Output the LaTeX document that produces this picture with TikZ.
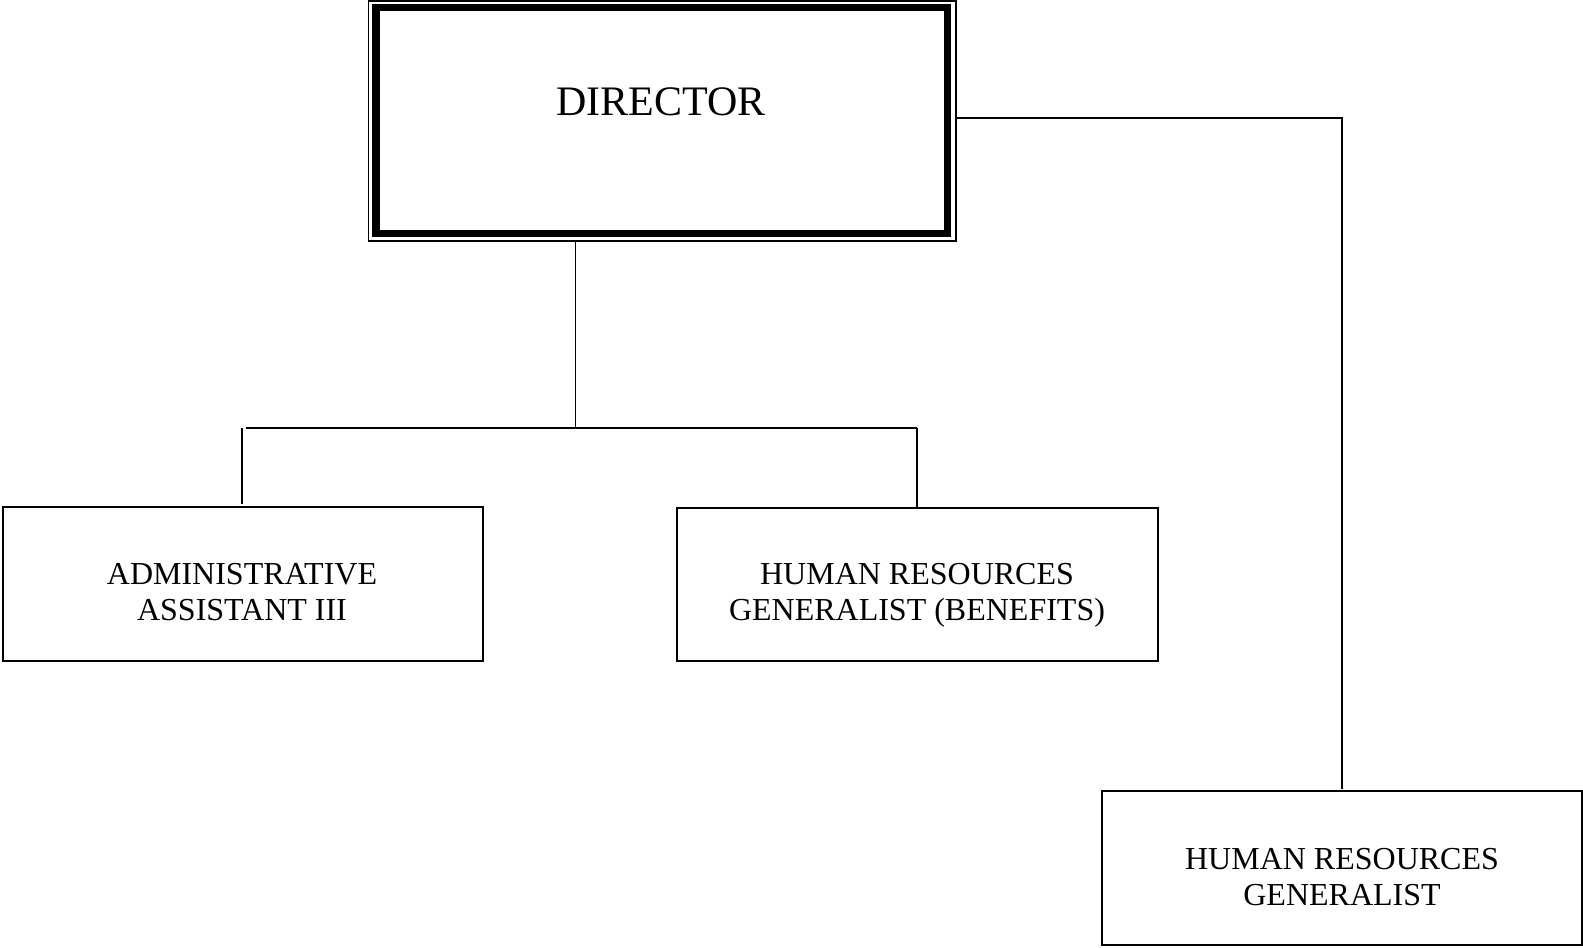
\documentclass[tikz,border=0pt]{standalone}
\usepackage{fontspec}
\setmainfont{Liberation Serif}
\begin{document}
\begin{tikzpicture}[x=0.5pt,y=-0.5pt,
  thinline/.style={line width=0.85pt},
  posbox/.style={draw,thinline,inner sep=0pt,outer sep=0pt,anchor=north west},
  postext/.style={align=center,font=\fontsize{16}{18.2}\selectfont,inner sep=0pt},
  link/.style={thinline}]
\useasboundingbox (0,0) rectangle (1583,947);

% Director: thin outer frame with a heavy frame just inside it
\node[posbox,line width=0.9pt,minimum width=293.75pt,minimum height=120pt] (dir) at (368.5,1) {};
\draw[line width=3.8pt] (376,7.5) rectangle (947.5,233.5);
\node[font=\fontsize{21}{24}\selectfont,inner sep=0pt] (dirtext) at (661,102) {DIRECTOR};

% Position boxes
\node[posbox,minimum width=240pt,minimum height=77pt] (admin) at (3,507) {};
\node[postext] (admintext) at (242,595) {\strut ADMINISTRATIVE\\\strut ASSISTANT III};

\node[posbox,minimum width=240.5pt,minimum height=76.5pt] (ben) at (677,508) {};
\node[postext] (bentext) at (917,595) {\strut HUMAN RESOURCES\\\strut GENERALIST (BENEFITS)};

\node[posbox,minimum width=240pt,minimum height=77pt] (gen) at (1102,791) {};
\node[postext] (gentext) at (1342,880) {\strut HUMAN RESOURCES\\\strut GENERALIST};

% Reporting lines
\coordinate (drop) at (575.5,428);
\draw[link] (dir.south -| drop) -- (drop);
\draw[link] (245.5,428) -- (917,428);
\draw[link] (242,428) -- (242,504);
\draw[link] (917,428) -- (917,507);

\coordinate (elbow) at (1342,118);
\draw[link] (dir.east |- elbow) -- (elbow) -- (1342,789);
\end{tikzpicture}
\end{document}
